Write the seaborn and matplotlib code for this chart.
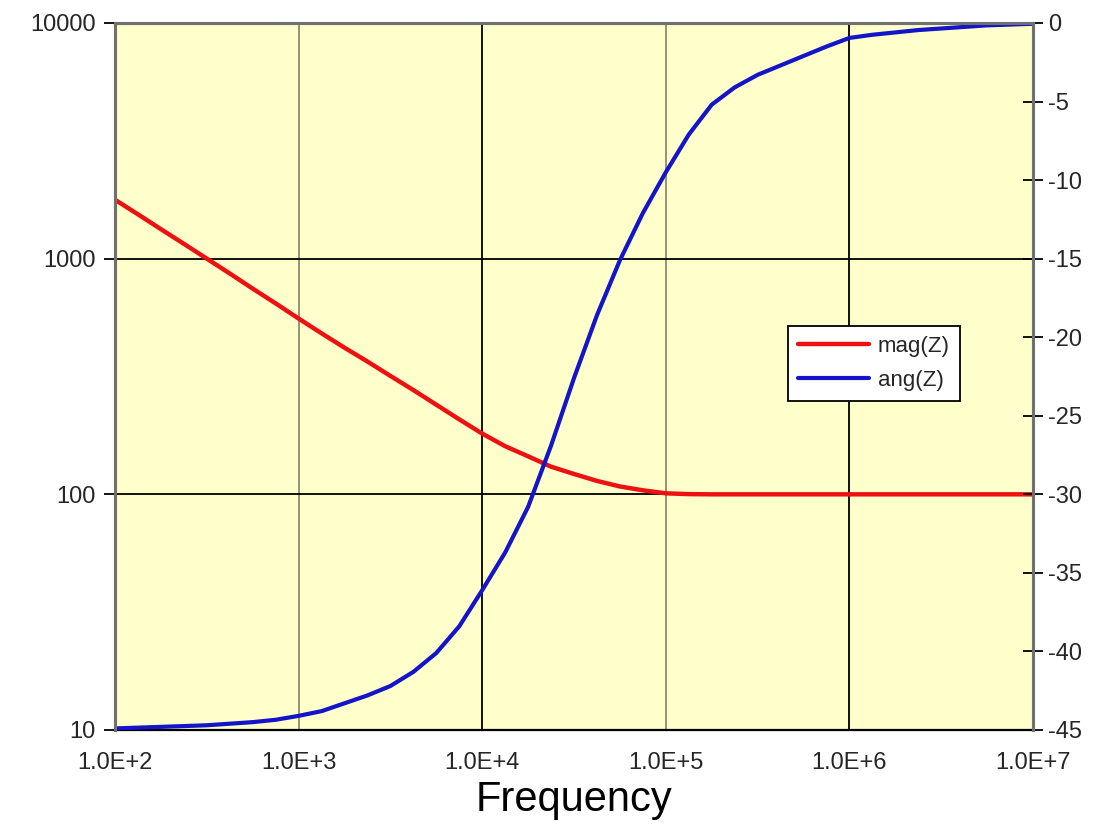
import matplotlib
matplotlib.use("Agg")
import matplotlib.pyplot as plt
from matplotlib.lines import Line2D
from matplotlib.ticker import FixedLocator, FixedFormatter, NullLocator
import seaborn as sns
import pandas as pd

# Frequency sweep (Hz), eighth-decade steps
freq = [1.000e2, 1.334e2, 1.778e2, 2.371e2, 3.162e2, 4.217e2, 5.623e2, 7.499e2,
        1.000e3, 1.334e3, 1.778e3, 2.371e3, 3.162e3, 4.217e3, 5.623e3, 7.499e3,
        1.000e4, 1.334e4, 1.778e4, 2.371e4, 3.162e4, 4.217e4, 5.623e4, 7.499e4,
        1.000e5, 1.334e5, 1.778e5, 2.371e5, 3.162e5, 4.217e5, 5.623e5, 7.499e5,
        1.000e6, 1.334e6, 1.778e6, 2.371e6, 3.162e6, 4.217e6, 5.623e6, 7.499e6,
        1.000e7]

# Impedance magnitude (ohm)
mag_z = [1778, 1542, 1334, 1156, 1000, 865, 746, 646,
         557, 482, 419, 366, 318, 277, 240, 208,
         181, 160, 145, 131, 122, 114, 108, 104,
         101, 100.2, 100, 100, 100, 100, 100, 100,
         100, 100, 100, 100, 100, 100, 100, 100,
         100]

# Impedance phase (degrees)
ang_z = [-44.9, -44.85, -44.8, -44.75, -44.7, -44.6, -44.5, -44.35,
         -44.1, -43.8, -43.3, -42.8, -42.2, -41.3, -40.1, -38.4,
         -36.1, -33.7, -30.8, -26.9, -22.6, -18.6, -15.1, -12.1,
         -9.5, -7.1, -5.2, -4.1, -3.3, -2.7, -2.1, -1.5,
         -0.95, -0.75, -0.6, -0.45, -0.35, -0.25, -0.15, -0.1,
         -0.05]

x_ticks = [1e2, 1e3, 1e4, 1e5, 1e6, 1e7]
x_tick_labels = ["1.0E+2", "1.0E+3", "1.0E+4", "1.0E+5", "1.0E+6", "1.0E+7"]
mag_ticks = [10, 100, 1000, 10000]
mag_tick_labels = ["10", "100", "1000", "10000"]
ang_ticks = [-45, -40, -35, -30, -25, -20, -15, -10, -5, 0]

df = pd.DataFrame({"freq": freq, "mag": mag_z, "ang": ang_z})

sns.set_style("white")
plt.rcParams["font.family"] = ["Liberation Sans", "DejaVu Sans"]
plt.rcParams["axes.unicode_minus"] = False

RED = "#EE1111"
BLUE = "#1414C8"
PLOT_BG = "#FFFFCC"
TICK_TXT = "#262626"

fig = plt.figure(figsize=(11.06, 8.36), dpi=100)
ax = fig.add_axes([0.104, 0.1268, 0.830, 0.8457])
ax.set_facecolor(PLOT_BG)

sns.lineplot(data=df, x="freq", y="mag", ax=ax, color=RED, linewidth=3.2,
             sort=False, legend=False)
ax.set_xscale("log")
ax.set_yscale("log")
ax.set_xlim(1e2, 1e7)
ax.set_ylim(10, 10000)

ax2 = ax.twinx()
sns.lineplot(data=df, x="freq", y="ang", ax=ax2, color=BLUE, linewidth=3.0,
             sort=False, legend=False)
ax2.set_ylim(-45, 0)
ax2.set_xlim(1e2, 1e7)

# ticks and labels
ax.xaxis.set_major_locator(FixedLocator(x_ticks))
ax.xaxis.set_major_formatter(FixedFormatter(x_tick_labels))
ax.xaxis.set_minor_locator(NullLocator())
ax.yaxis.set_major_locator(FixedLocator(mag_ticks))
ax.yaxis.set_major_formatter(FixedFormatter(mag_tick_labels))
ax.yaxis.set_minor_locator(NullLocator())
ax2.yaxis.set_major_locator(FixedLocator(ang_ticks))
ax2.yaxis.set_minor_locator(NullLocator())

ax.tick_params(axis="x", direction="out", length=8, width=1.3, color="black",
               labelsize=17, labelcolor=TICK_TXT, pad=8)
ax.tick_params(axis="y", direction="out", length=8, width=1.3, color="black",
               labelsize=17, labelcolor=TICK_TXT, pad=6)
ax2.tick_params(axis="y", direction="inout", length=14, width=1.3, color="black",
                labelsize=17, labelcolor=TICK_TXT, pad=4)

# grid: black at every decade on y, alternating shade on x
ax.grid(True, which="major", axis="both", color="black", linewidth=1.3)
ax.set_axisbelow(True)
for i, gl in enumerate(ax.get_xgridlines()):
    if i in (1, 3):
        gl.set_color("#8C8C70")

for name in ("top", "left", "right"):
    ax.spines[name].set_color("#707070")
    ax.spines[name].set_linewidth(2.2)
    ax2.spines[name].set_color("#707070")
    ax2.spines[name].set_linewidth(2.2)
ax.spines["bottom"].set_color("black")
ax.spines["bottom"].set_linewidth(1.6)
ax2.spines["bottom"].set_visible(False)

ax.set_ylabel("")
ax2.set_ylabel("")
ax.set_xlabel("Frequency", fontsize=30, color="black", labelpad=4)
ax2.set_xlabel("")

handles = [Line2D([], [], color=RED, linewidth=3.2),
           Line2D([], [], color=BLUE, linewidth=3.0)]
leg = ax2.legend(handles, ["mag(Z)", "ang(Z)"], loc="lower left",
                 bbox_to_anchor=(0.733, 0.465), fontsize=16, frameon=True,
                 fancybox=False, framealpha=1, edgecolor="black",
                 handlelength=3.2, handletextpad=0.4, borderpad=0.45,
                 labelspacing=0.6, borderaxespad=0)
leg.get_frame().set_linewidth(1.3)
leg.get_frame().set_facecolor("white")

fig.savefig("out.png", dpi=100, facecolor="white")
